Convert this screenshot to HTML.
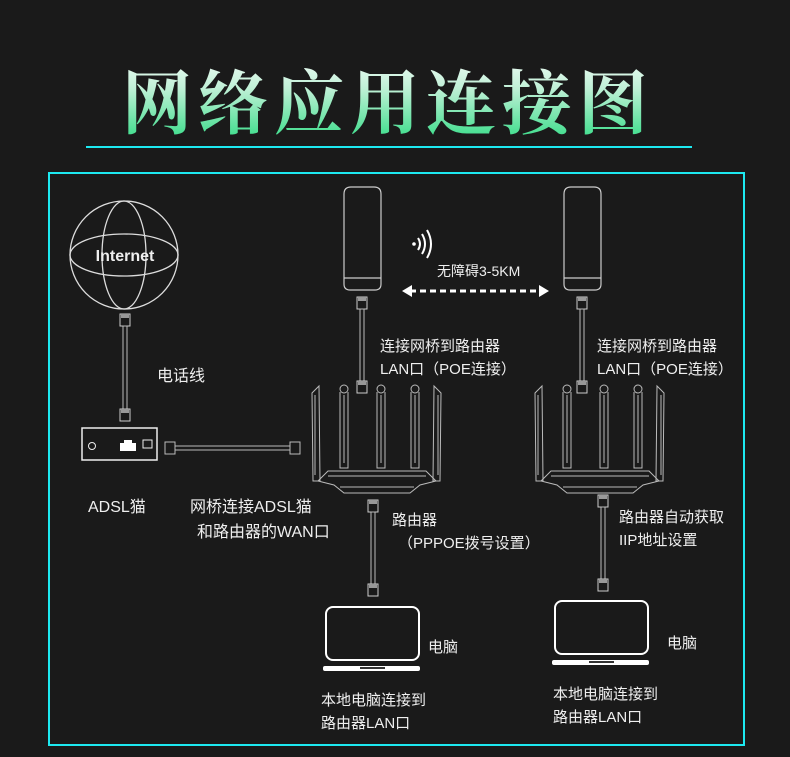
<!DOCTYPE html>
<html><head><meta charset="utf-8"><style>
html,body{margin:0;padding:0;background:#1a1a1a;}
svg{display:block}
text{font-family:"Liberation Sans","Noto Sans CJK SC",sans-serif;fill:#efefef}
</style></head><body>
<svg width="790" height="757" viewBox="0 0 790 757" xmlns="http://www.w3.org/2000/svg">
<defs>
<linearGradient id="tg" x1="0" y1="0" x2="0" y2="1">
<stop offset="0" stop-color="#ffffff"/><stop offset="0.4" stop-color="#bff0d6"/><stop offset="1" stop-color="#22d97c"/>
</linearGradient>
<g id="conn"><rect x="-5" y="-6" width="10" height="12" fill="none" stroke="#ccc" stroke-width="1"/><rect x="-4" y="-6" width="8" height="4" fill="#999"/></g>
<g id="router" fill="none" stroke="#bbb" stroke-width="1">
<path d="M2 10 L9 3 L10 98 L3 98 Z"/><path d="M5 12 L5 92"/>
<path d="M131 10 L124 3 L123 98 L130 98 Z"/><path d="M128 12 L128 92"/>
<g><circle cx="34" cy="6" r="4"/><path d="M30 9 L30 85 L38 85 L38 9"/><path d="M34 12 L34 80"/></g>
<g><circle cx="71" cy="6" r="4"/><path d="M67 9 L67 85 L75 85 L75 9"/><path d="M71 12 L71 80"/></g>
<g><circle cx="105" cy="6" r="4"/><path d="M101 9 L101 85 L109 85 L109 9"/><path d="M105 12 L105 80"/></g>
<path d="M8 98 L18 88 L116 88 L126 98 L110 102 L100 110 L34 110 L24 102 Z"/>
<path d="M18 93 L116 93"/><path d="M30 104 L104 104"/>
</g>
</defs>
<rect width="790" height="757" fill="#1a1a1a"/>
<text x="388" y="128" text-anchor="middle" font-size="70" font-weight="bold" letter-spacing="6" style="fill:url(#tg);font-family:'Noto Serif CJK SC','Noto Sans CJK SC',sans-serif">网络应用连接图</text>
<rect x="86" y="146" width="606" height="2" fill="#1de9f0"/>
<rect x="49" y="173" width="695" height="572" fill="none" stroke="#1de9f0" stroke-width="2"/>

<g fill="none" stroke="#ddd" stroke-width="1.3">
<circle cx="124" cy="255" r="54"/>
<ellipse cx="124" cy="255" rx="54" ry="21"/>
<ellipse cx="124" cy="255" rx="22" ry="54"/>
</g>
<text x="125" y="261" text-anchor="middle" font-size="16" font-weight="bold">Internet</text>
<use href="#conn" x="125" y="320"/>
<rect x="123" y="326" width="4" height="84" fill="none" stroke="#bbb"/>
<use href="#conn" x="125" y="415"/>
<rect x="82" y="428" width="75" height="32" fill="none" stroke="#eee" stroke-width="1.5"/>
<circle cx="92" cy="446" r="3.5" fill="none" stroke="#eee"/>
<path d="M120 451 L120 443 L124 443 L124 440 L132 440 L132 443 L136 443 L136 451 Z" fill="#fff"/>
<rect x="143" y="440" width="9" height="8" fill="none" stroke="#eee"/>
<rect x="165" y="442" width="10" height="12" fill="none" stroke="#bbb"/>
<rect x="175" y="446" width="115" height="4" fill="none" stroke="#bbb"/>
<rect x="290" y="442" width="10" height="12" fill="none" stroke="#bbb"/>
<text x="157" y="381" font-size="16">电话线</text>
<text x="88" y="512" font-size="16">ADSL猫</text>
<text x="190" y="512" font-size="16">网桥连接ADSL猫</text>
<text x="197" y="537" font-size="16">和路由器的WAN口</text>

<g fill="none" stroke="#ccc" stroke-width="1.2">
<path d="M344 194 Q344 187 351 187 L374 187 Q381 187 381 194 L381 284 Q381 290 375 290 L350 290 Q344 290 344 284 Z"/>
<path d="M344 278 L381 278"/>
<path d="M564 194 Q564 187 571 187 L594 187 Q601 187 601 194 L601 284 Q601 290 595 290 L570 290 Q564 290 564 284 Z"/>
<path d="M564 278 L601 278"/>
</g>
<use href="#conn" x="362" y="303"/>
<rect x="360" y="309" width="4" height="72" fill="none" stroke="#bbb"/>
<use href="#conn" x="362" y="387"/>
<use href="#conn" x="582" y="303"/>
<rect x="580" y="309" width="4" height="72" fill="none" stroke="#bbb"/>
<use href="#conn" x="582" y="387"/>

<circle cx="414" cy="244" r="1.8" fill="#fff"/>
<g fill="none" stroke="#fff" stroke-width="2">
<path d="M418 238 Q422 244 418 250"/><path d="M422 234 Q428 244 422 254"/><path d="M427 230 Q435 244 427 258"/>
</g>
<text x="437" y="276" font-size="14">无障碍3-5KM</text>
<line x1="410" y1="291" x2="540" y2="291" stroke="#fff" stroke-width="3" stroke-dasharray="6 4"/>
<path d="M402 291 L412 285 L412 297 Z" fill="#fff"/>
<path d="M549 291 L539 285 L539 297 Z" fill="#fff"/>

<text x="380" y="351" font-size="15">连接网桥到路由器</text>
<text x="380" y="374" font-size="15">LAN口（POE连接）</text>
<text x="597" y="351" font-size="15">连接网桥到路由器</text>
<text x="597" y="374" font-size="15">LAN口（POE连接）</text>

<use href="#router" x="310" y="383"/>
<use href="#router" x="533" y="383"/>

<use href="#conn" x="373" y="506"/>
<rect x="371" y="512" width="4" height="72" fill="none" stroke="#bbb"/>
<use href="#conn" x="373" y="590"/>
<rect x="326" y="607" width="93" height="53" rx="7" fill="none" stroke="#fff" stroke-width="2"/>
<rect x="323" y="666" width="97" height="5" rx="2" fill="#fff"/>
<rect x="360" y="667" width="25" height="2" fill="#333"/>
<text x="428" y="652" font-size="15">电脑</text>
<text x="392" y="525" font-size="15">路由器</text>
<text x="398" y="548" font-size="15">（PPPOE拨号设置）</text>
<text x="321" y="705" font-size="15">本地电脑连接到</text>
<text x="321" y="728" font-size="15">路由器LAN口</text>

<use href="#conn" x="603" y="501"/>
<rect x="601" y="507" width="4" height="72" fill="none" stroke="#bbb"/>
<use href="#conn" x="603" y="585"/>
<rect x="555" y="601" width="93" height="53" rx="7" fill="none" stroke="#fff" stroke-width="2"/>
<rect x="552" y="660" width="97" height="5" rx="2" fill="#fff"/>
<rect x="589" y="661" width="25" height="2" fill="#333"/>
<text x="667" y="648" font-size="15">电脑</text>
<text x="619" y="522" font-size="15">路由器自动获取</text>
<text x="619" y="545" font-size="15">IIP地址设置</text>
<text x="553" y="699" font-size="15">本地电脑连接到</text>
<text x="553" y="722" font-size="15">路由器LAN口</text>
</svg>
</body></html>
